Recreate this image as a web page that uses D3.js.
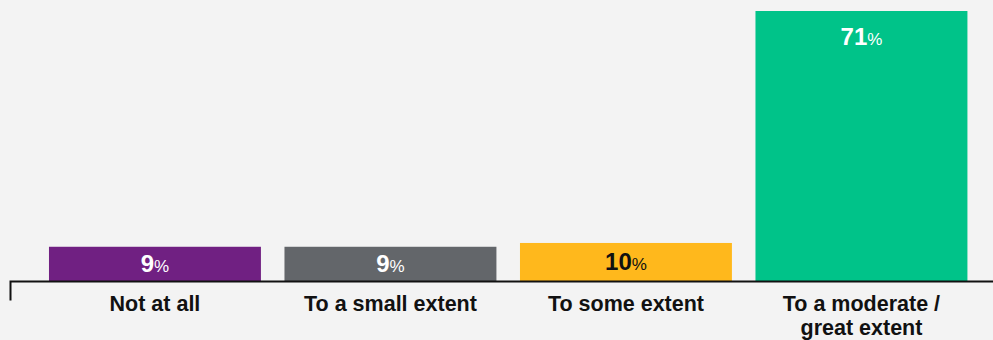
<!DOCTYPE html>
<html>
<head>
<meta charset="utf-8">
<script src="https://cdn.jsdelivr.net/npm/d3@7"></script>
<style>
  html, body { margin: 0; padding: 0; background: #f3f3f3; }
  svg { display: block; }
  text { font-family: "Liberation Sans", Arial, sans-serif; }
</style>
</head>
<body>
<svg id="chart" width="993" height="340"></svg>
<script>
const categories = ["Not at all", "To a small extent", "To some extent", "To a moderate / great extent"];
const values = [9, 9, 10, 71];
const barColors = ["#702082", "#63666a", "#ffb81c", "#00c389"];
const labelColors = ["#ffffff", "#ffffff", "#111111", "#ffffff"];

const W = 993, H = 340;
const baseY = 281;
const svg = d3.select("#chart");
svg.append("rect").attr("width", W).attr("height", H).attr("fill", "#f3f3f3");

const x = d3.scaleBand().domain(categories).range([37.2, 979.2]).paddingInner(0.1).paddingOuter(0.05);
const y = d3.scaleLinear().domain([0, 71]).range([baseY, 11]);

const g = svg.append("g");
g.selectAll("rect.bar").data(categories).join("rect")
  .attr("class", "bar")
  .attr("x", d => x(d))
  .attr("width", x.bandwidth())
  .attr("y", (d, i) => y(values[i]))
  .attr("height", (d, i) => y(0) - y(values[i]))
  .attr("fill", (d, i) => barColors[i]);

// value labels
const lbl = g.selectAll("text.val").data(categories).join("text")
  .attr("class", "val")
  .attr("x", d => x(d) + x.bandwidth() / 2)
  .attr("y", (d, i) => {
    const top = y(values[i]), h = y(0) - top;
    return h < 80 ? top + h / 2 + 8.5 : top + 34;
  })
  .attr("text-anchor", "middle")
  .attr("fill", (d, i) => labelColors[i]);
lbl.append("tspan").attr("font-size", 24).attr("font-weight", "bold").text((d, i) => values[i]);
lbl.append("tspan").attr("font-size", 17).attr("font-weight", "normal").text("%");

// axis
const axis = d3.axisBottom(x).tickSize(0).tickPadding(0);
const ag = svg.append("g").attr("transform", `translate(0,${baseY + 0.5})`).call(axis);
ag.select(".domain").attr("d", "M10.5,19V0H1000").attr("stroke", "#111").attr("stroke-width", 2).attr("fill", "none");
ag.selectAll(".tick text").remove();
ag.selectAll(".tick").each(function(d) {
  const t = d3.select(this).append("text")
    .attr("text-anchor", "middle")
    .attr("fill", "#111")
    .attr("font-size", 21.5)
    .attr("font-weight", "bold")
    .attr("y", 29.5);
  const words = d.split(" ");
  let line = [];
  let tspan = t.append("tspan").attr("x", 0).attr("dy", 0);
  for (const w of words) {
    line.push(w);
    tspan.text(line.join(" "));
    if (tspan.node().getComputedTextLength() > x.bandwidth() && line.length > 1) {
      line.pop();
      tspan.text(line.join(" "));
      line = [w];
      tspan = t.append("tspan").attr("x", 0).attr("dy", 24).text(w);
    }
  }
});
</script>
</body>
</html>
